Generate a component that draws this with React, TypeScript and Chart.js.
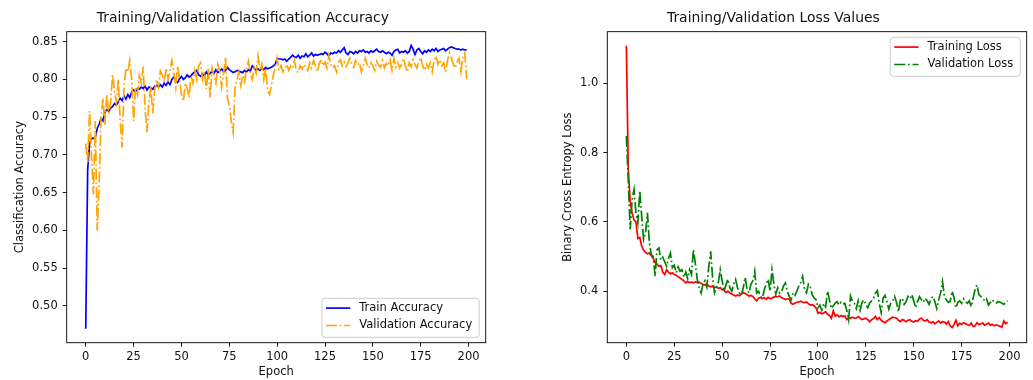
import React, { useEffect, useRef } from "react";
import { Chart, registerables } from "chart.js";

Chart.register(...registerables);

const epochs = Array.from({ length: 200 }, (_, i) => i);

const trainAccuracy = [
  0.470, 0.680, 0.715, 0.722, 0.722, 0.723, 0.735, 0.741, 0.748, 0.745,
  0.757, 0.760, 0.758, 0.762, 0.764, 0.768, 0.766, 0.770, 0.775, 0.772,
  0.778, 0.774, 0.780, 0.776, 0.783, 0.786, 0.784, 0.788, 0.787, 0.790,
  0.788, 0.791, 0.786, 0.790, 0.789, 0.787, 0.791, 0.792, 0.790, 0.793,
  0.790, 0.795, 0.792, 0.797, 0.793, 0.800, 0.803, 0.798, 0.796, 0.801,
  0.804, 0.800, 0.802, 0.806, 0.803, 0.805, 0.808, 0.810, 0.812, 0.806,
  0.804, 0.807, 0.805, 0.810, 0.806, 0.808, 0.811, 0.808, 0.813, 0.809,
  0.811, 0.814, 0.810, 0.812, 0.816, 0.813, 0.811, 0.809, 0.810, 0.812,
  0.811, 0.810, 0.809, 0.812, 0.810, 0.813, 0.811, 0.818, 0.815, 0.812,
  0.814, 0.812, 0.815, 0.813, 0.816, 0.814, 0.815, 0.816, 0.818, 0.820,
  0.828, 0.827, 0.827, 0.826, 0.827, 0.824, 0.827, 0.829, 0.832, 0.830,
  0.829, 0.832, 0.828, 0.831, 0.830, 0.834, 0.830, 0.832, 0.835, 0.831,
  0.833, 0.832, 0.833, 0.834, 0.833, 0.836, 0.834, 0.831, 0.835, 0.834,
  0.836, 0.835, 0.838, 0.836, 0.839, 0.842, 0.835, 0.833, 0.837, 0.836,
  0.834, 0.837, 0.835, 0.838, 0.837, 0.839, 0.836, 0.837, 0.835, 0.838,
  0.836, 0.838, 0.840, 0.837, 0.836, 0.838, 0.836, 0.834, 0.836, 0.835,
  0.832, 0.837, 0.839, 0.840, 0.835, 0.837, 0.836, 0.838, 0.835, 0.837,
  0.845, 0.840, 0.833, 0.839, 0.841, 0.837, 0.834, 0.838, 0.836, 0.839,
  0.837, 0.840, 0.838, 0.841, 0.837, 0.839, 0.840, 0.841, 0.838, 0.840,
  0.842, 0.843, 0.842, 0.841, 0.840, 0.840, 0.839, 0.840, 0.839, 0.839,
];

const validationAccuracy = [
  0.715, 0.690, 0.758, 0.700, 0.648, 0.745, 0.600, 0.660, 0.750, 0.775,
  0.740, 0.780, 0.755, 0.770, 0.806, 0.785, 0.770, 0.800, 0.745, 0.710,
  0.790, 0.815, 0.810, 0.825, 0.800, 0.745, 0.790, 0.780, 0.805, 0.795,
  0.817, 0.760, 0.730, 0.770, 0.790, 0.755, 0.785, 0.800, 0.790, 0.811,
  0.805, 0.796, 0.815, 0.800, 0.812, 0.825, 0.810, 0.790, 0.818, 0.800,
  0.780, 0.771, 0.795, 0.788, 0.776, 0.805, 0.795, 0.812, 0.800, 0.818,
  0.822, 0.800, 0.810, 0.787, 0.815, 0.776, 0.815, 0.805, 0.795, 0.820,
  0.811, 0.790, 0.808, 0.829, 0.775, 0.766, 0.745, 0.730, 0.788, 0.800,
  0.810, 0.792, 0.805, 0.797, 0.815, 0.824, 0.808, 0.800, 0.815, 0.808,
  0.831, 0.812, 0.820, 0.800, 0.815, 0.785, 0.780, 0.792, 0.806, 0.816,
  0.828, 0.812, 0.818, 0.810, 0.815, 0.820, 0.812, 0.818, 0.815, 0.825,
  0.812, 0.809, 0.818, 0.814, 0.820, 0.816, 0.812, 0.822, 0.815, 0.825,
  0.818, 0.810, 0.821, 0.826, 0.818, 0.823, 0.815, 0.832, 0.820, 0.815,
  0.818, 0.810, 0.822, 0.826, 0.818, 0.823, 0.817, 0.822, 0.828, 0.820,
  0.816, 0.825, 0.819, 0.822, 0.810, 0.818, 0.828, 0.820, 0.815, 0.822,
  0.818, 0.812, 0.824, 0.819, 0.816, 0.825, 0.815, 0.821, 0.818, 0.826,
  0.812, 0.828, 0.816, 0.822, 0.815, 0.820, 0.828, 0.818, 0.810, 0.822,
  0.817, 0.826, 0.820, 0.815, 0.824, 0.829, 0.818, 0.812, 0.820, 0.815,
  0.822, 0.810, 0.825, 0.831, 0.820, 0.826, 0.818, 0.822, 0.810, 0.825,
  0.835, 0.828, 0.820, 0.815, 0.823, 0.828, 0.810, 0.830, 0.835, 0.800,
];

const trainingLoss = [
  1.108, 0.750, 0.660, 0.625, 0.605, 0.600, 0.552, 0.555, 0.530, 0.518,
  0.512, 0.508, 0.510, 0.502, 0.495, 0.483, 0.478, 0.472, 0.474, 0.455,
  0.448, 0.462, 0.455, 0.450, 0.453, 0.448, 0.446, 0.442, 0.438, 0.434,
  0.430, 0.424, 0.428, 0.425, 0.426, 0.424, 0.427, 0.425, 0.426, 0.422,
  0.420, 0.418, 0.421, 0.415, 0.413, 0.414, 0.410, 0.412, 0.408, 0.410,
  0.405, 0.402, 0.396, 0.400, 0.395, 0.392, 0.389, 0.386, 0.389, 0.387,
  0.392, 0.396, 0.393, 0.390, 0.386, 0.388, 0.385, 0.378, 0.372, 0.380,
  0.382, 0.379, 0.381, 0.377, 0.382, 0.378, 0.380, 0.383, 0.385, 0.384,
  0.386, 0.381, 0.379, 0.376, 0.378, 0.377, 0.365, 0.362, 0.366, 0.368,
  0.369, 0.371, 0.368, 0.367, 0.369, 0.364, 0.360, 0.361, 0.358, 0.352,
  0.336, 0.339, 0.335, 0.337, 0.341, 0.333, 0.330, 0.322, 0.343, 0.328,
  0.332, 0.326, 0.330, 0.327, 0.329, 0.318, 0.324, 0.322, 0.325, 0.322,
  0.323, 0.327, 0.322, 0.318, 0.320, 0.322, 0.318, 0.312, 0.318, 0.321,
  0.327, 0.318, 0.324, 0.316, 0.312, 0.309, 0.314, 0.318, 0.322, 0.325,
  0.324, 0.322, 0.316, 0.312, 0.318, 0.316, 0.312, 0.316, 0.318, 0.313,
  0.311, 0.315, 0.313, 0.320, 0.322, 0.316, 0.314, 0.318, 0.311, 0.309,
  0.312, 0.306, 0.310, 0.314, 0.308, 0.312, 0.311, 0.305, 0.312, 0.300,
  0.295, 0.304, 0.316, 0.300, 0.308, 0.304, 0.309, 0.306, 0.303, 0.301,
  0.308, 0.298, 0.300, 0.309, 0.304, 0.306, 0.308, 0.302, 0.305, 0.308,
  0.302, 0.304, 0.300, 0.303, 0.301, 0.299, 0.296, 0.314, 0.306, 0.311,
];

const validationLoss = [
  0.848, 0.720, 0.578, 0.664, 0.693, 0.626, 0.597, 0.690, 0.616, 0.549,
  0.568, 0.626, 0.540, 0.505, 0.500, 0.443, 0.520, 0.525, 0.490, 0.498,
  0.485, 0.472, 0.495, 0.510, 0.468, 0.475, 0.453, 0.470, 0.458, 0.462,
  0.440, 0.455, 0.436, 0.462, 0.448, 0.520, 0.480, 0.434, 0.410, 0.395,
  0.420, 0.430, 0.412, 0.470, 0.515, 0.440, 0.395, 0.412, 0.425, 0.462,
  0.430, 0.400, 0.418, 0.435, 0.410, 0.400, 0.420, 0.434, 0.410, 0.395,
  0.388, 0.410, 0.440, 0.405, 0.395, 0.420, 0.430, 0.458, 0.395, 0.400,
  0.385, 0.380, 0.405, 0.420, 0.435, 0.400, 0.462, 0.420, 0.392, 0.410,
  0.395, 0.398, 0.415, 0.424, 0.400, 0.385, 0.375, 0.395, 0.388, 0.400,
  0.415, 0.425, 0.443, 0.405, 0.395, 0.420, 0.412, 0.390, 0.380, 0.376,
  0.352, 0.360, 0.345, 0.365, 0.355, 0.400, 0.375, 0.350, 0.358, 0.365,
  0.370, 0.360, 0.368, 0.362, 0.365, 0.345, 0.318, 0.386, 0.370, 0.365,
  0.350, 0.372, 0.345, 0.368, 0.375, 0.360, 0.352, 0.366, 0.372, 0.380,
  0.395, 0.402, 0.365, 0.338, 0.380, 0.388, 0.370, 0.348, 0.365, 0.372,
  0.385, 0.368, 0.340, 0.375, 0.380, 0.362, 0.370, 0.385, 0.378, 0.390,
  0.372, 0.352, 0.370, 0.384, 0.375, 0.368, 0.380, 0.372, 0.362, 0.378,
  0.385, 0.370, 0.350, 0.375, 0.395, 0.428, 0.385, 0.375, 0.368, 0.370,
  0.400, 0.382, 0.352, 0.368, 0.372, 0.365, 0.378, 0.370, 0.365, 0.372,
  0.355, 0.380, 0.405, 0.418, 0.390, 0.385, 0.380, 0.372, 0.378, 0.360,
  0.368, 0.375, 0.368, 0.365, 0.370, 0.368, 0.366, 0.362, 0.368, 0.372,
];

const epochTicks = [0, 25, 50, 75, 100, 125, 150, 175, 200];
const accuracyTicks = [0.5, 0.55, 0.6, 0.65, 0.7, 0.75, 0.8, 0.85];
const lossTicks = [0.4, 0.6, 0.8, 1.0];

const FONT = "'DejaVu Sans', 'Liberation Sans', sans-serif";
const TXT = "#111111";
const DASHDOT = [11, 2.8, 1.7, 2.8];

const framePlugin = {
  id: "frame",
  afterDatasetsDraw(chart: any) {
    const { ctx, chartArea: a } = chart;
    ctx.save();
    ctx.strokeStyle = "#000";
    ctx.lineWidth = 0.9;
    ctx.strokeRect(a.left, a.top, a.right - a.left, a.bottom - a.top);
    ctx.restore();
  },
};

function makeLegend(items: any[], corner: string) {
  return {
    id: "boxLegend",
    afterDraw(chart: any) {
      const { ctx, chartArea: a } = chart;
      ctx.save();
      ctx.font = `11.5px ${FONT}`;
      const textW = Math.max(...items.map((it) => ctx.measureText(it.label).width));
      const w = 4 + 24.3 + 9 + textW + 7;
      const h = 39;
      const x = a.right - 6.5 - w;
      const y = corner === "br" ? a.bottom - 5.4 - h : a.top + 5.6;
      ctx.beginPath();
      ctx.roundRect(x, y, w, h, 3);
      ctx.fillStyle = "rgba(255,255,255,0.8)";
      ctx.fill();
      ctx.strokeStyle = "#cccccc";
      ctx.lineWidth = 1;
      ctx.stroke();
      items.forEach((it, i) => {
        const ry = y + 9.8 + i * 17.4;
        ctx.beginPath();
        ctx.setLineDash(it.dash || []);
        ctx.strokeStyle = it.color;
        ctx.lineWidth = 1.7;
        ctx.moveTo(x + 4, ry);
        ctx.lineTo(x + 28.3, ry);
        ctx.stroke();
        ctx.setLineDash([]);
        ctx.fillStyle = TXT;
        ctx.textBaseline = "middle";
        ctx.textAlign = "left";
        ctx.fillText(it.label, x + 37.3, ry);
      });
      ctx.restore();
    },
  };
}

type Series = { label: string; values: number[]; color: string; dash?: number[]; order: number };

type Props = {
  left: number;
  width: number;
  title: string;
  yTitle: string;
  yTicks: number[];
  yDecimals: number;
  yMin: number;
  yMax: number;
  series: Series[];
  axisWidth: number;
  padRight: number;
  yTitlePad: number;
  legendCorner: string;
};

function LineChart(p: Props) {
  const ref = useRef<HTMLCanvasElement | null>(null);
  useEffect(() => {
    if (!ref.current) return;
    const tickFont = { family: FONT, size: 11.5 };
    const chart = new Chart(ref.current, {
      type: "line",
      data: {
        datasets: p.series.map((s) => ({
          label: s.label,
          data: s.values.map((v, i) => ({ x: epochs[i], y: v })),
          borderColor: s.color,
          backgroundColor: s.color,
          borderWidth: 1.7,
          borderDash: s.dash || [],
          pointRadius: 0,
          fill: false,
          tension: 0,
          order: s.order,
        })),
      },
      options: {
        responsive: false,
        animation: false,
        devicePixelRatio: 1,
        layout: { padding: { left: 0, right: p.padRight, top: 0, bottom: 0 } },
        plugins: {
          legend: { display: false },
          tooltip: { enabled: false },
          title: {
            display: true,
            text: p.title,
            color: TXT,
            font: { family: FONT, size: 13.9, weight: "normal" },
            padding: { top: 10.5, bottom: 4.5 },
          },
        },
        scales: {
          x: {
            type: "linear",
            min: -9.95,
            max: 208.95,
            afterBuildTicks: (s: any) => {
              s.ticks = epochTicks.map((v) => ({ value: v }));
            },
            afterFit: (s: any) => {
              s.height = 37.3;
            },
            grid: { drawOnChartArea: false, drawTicks: true, tickLength: 4, color: "#000", lineWidth: 0.9 },
            border: { display: false },
            ticks: {
              color: TXT,
              font: tickFont,
              padding: 3.5,
              maxRotation: 0,
              autoSkip: false,
              callback: (v: any) => String(v),
            },
            title: { display: true, text: "Epoch", color: TXT, font: tickFont, padding: { top: 0, bottom: 1.1 } },
          },
          y: {
            type: "linear",
            min: p.yMin,
            max: p.yMax,
            afterBuildTicks: (s: any) => {
              s.ticks = p.yTicks.map((v) => ({ value: v }));
            },
            afterFit: (s: any) => {
              s.width = p.axisWidth;
            },
            grid: { drawOnChartArea: false, drawTicks: true, tickLength: 4, color: "#000", lineWidth: 0.9 },
            border: { display: false },
            ticks: {
              color: TXT,
              font: tickFont,
              padding: 5,
              autoSkip: false,
              callback: (v: any) => Number(v).toFixed(p.yDecimals),
            },
            title: { display: true, text: p.yTitle, color: TXT, font: tickFont, padding: { top: p.yTitlePad, bottom: 0 } },
          },
        },
      } as any,
      plugins: [framePlugin, makeLegend(p.series, p.legendCorner)],
    });
    return () => chart.destroy();
  }, []);
  return (
    <div style={{ position: "absolute", left: p.left, top: 0, width: p.width, height: 380 }}>
      <canvas ref={ref} width={p.width} height={380} style={{ display: "block", width: p.width, height: 380 }} />
    </div>
  );
}

export default function App() {
  return (
    <div style={{ position: "absolute", left: 0, top: 0, width: 1033, height: 380, background: "#fff" }}>
      <LineChart
        left={0}
        width={520}
        title="Training/Validation Classification Accuracy"
        yTitle="Classification Accuracy"
        yTicks={accuracyTicks}
        yDecimals={2}
        yMin={0.4514}
        yMax={0.8632}
        axisWidth={66.7}
        padRight={34.3}
        yTitlePad={13.1}
        legendCorner="br"
        series={[
          { label: "Train Accuracy", values: trainAccuracy, color: "#0000ff", order: 1 },
          { label: "Validation Accuracy", values: validationAccuracy, color: "#ffa500", dash: DASHDOT, order: 0 },
        ]}
      />
      <LineChart
        left={520}
        width={513}
        title="Training/Validation Loss Values"
        yTitle="Binary Cross Entropy Loss"
        yTicks={lossTicks}
        yDecimals={1}
        yMin={0.2514}
        yMax={1.1486}
        axisWidth={87.3}
        padRight={6.3}
        yTitlePad={41.4}
        legendCorner="tr"
        series={[
          { label: "Training Loss", values: trainingLoss, color: "#ff0000", order: 1 },
          { label: "Validation Loss", values: validationLoss, color: "#008000", dash: DASHDOT, order: 0 },
        ]}
      />
    </div>
  );
}
